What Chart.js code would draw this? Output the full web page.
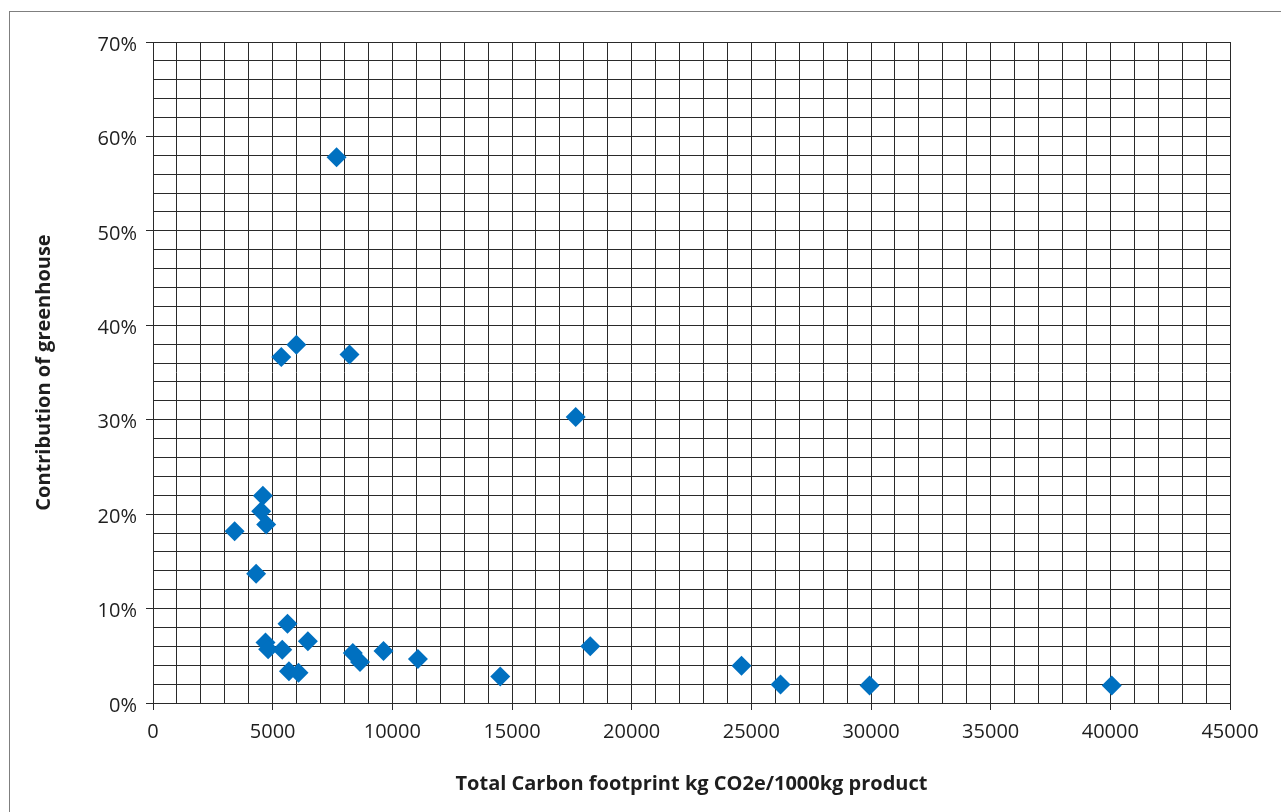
<!DOCTYPE html>
<html>
<head>
<meta charset="utf-8">
<script src="https://cdn.jsdelivr.net/npm/chart.js@4/dist/chart.umd.min.js"></script>
<style>
    html, body { margin: 0; padding: 0; background: #fff; overflow: hidden; }
    #frame {
        position: absolute; left: 9px; top: 11px;
        width: 1400px; height: 900px;
        border: 1px solid #7f7f7f;
    }
    #chart { position: absolute; left: 0; top: 0; }
</style>
</head>
<body>
<div id="frame"></div>
<canvas id="chart" width="1281" height="812"></canvas>
<script>
(function () {

    "use strict";

    // Total carbon footprint, kg CO2e / 1000kg product
    var footprint = [7670, 5990, 5360, 8210, 17660, 4590, 4520, 4730, 3410, 4310,
                     5620, 4700, 4810, 5400, 6470, 5680, 6080, 8350, 8650, 9630,
                     11070, 14510, 18270, 24590, 26220, 29940, 40060];

    // Contribution of greenhouse, %
    var greenhouse = [57.8, 37.95, 36.65, 36.9, 30.3, 21.95, 20.3, 18.9, 18.2, 13.7,
                      8.4, 6.4, 5.7, 5.65, 6.55, 3.35, 3.2, 5.3, 4.35, 5.5,
                      4.65, 2.8, 6.0, 3.95, 1.95, 1.85, 1.85];

    var xTicks = [0, 5000, 10000, 15000, 20000, 25000, 30000, 35000, 40000, 45000];
    var yTicks = [0, 10, 20, 30, 40, 50, 60, 70];

    var gridColor = '#2a2a2a';
    var textColor = '#1e1e1e';
    var tickFont = { family: 'Open Sans', size: 20 };
    var titleFont = { family: 'Open Sans', size: 20, weight: 'bold' };

    var points = [];
    for (var i = 0; i < footprint.length; i++) {
        points.push({ x: footprint[i], y: greenhouse[i] });
    }

    var ctx = document.getElementById('chart').getContext('2d');

    new Chart(ctx, {
        type: 'scatter',
        data: {
            datasets: [{
                data: points,
                pointStyle: 'rectRot',
                pointRadius: 10,
                pointHoverRadius: 10,
                backgroundColor: '#0070c0',
                borderColor: '#0070c0',
                borderWidth: 0
            }]
        },
        options: {
            responsive: false,
            animation: false,
            devicePixelRatio: 1,
            layout: { padding: { left: 0, top: 42, right: 51, bottom: 0 } },
            plugins: {
                legend: { display: false },
                tooltip: { enabled: false }
            },
            scales: {
                x: {
                    type: 'linear',
                    min: 0,
                    max: 45000,
                    afterFit: function (scale) { scale.height = 109; },
                    grid: {
                        color: gridColor,
                        lineWidth: 1,
                        tickLength: 7,
                        tickColor: function (c) {
                            return xTicks.indexOf(c.tick.value) >= 0 ? gridColor : 'rgba(0,0,0,0)';
                        }
                    },
                    border: { color: gridColor, width: 1 },
                    ticks: {
                        stepSize: 1000,
                        autoSkip: false,
                        maxRotation: 0,
                        padding: 10,
                        color: textColor,
                        font: tickFont,
                        callback: function (v) {
                            return xTicks.indexOf(v) >= 0 ? String(v) : '';
                        }
                    },
                    title: {
                        display: true,
                        text: 'Total Carbon footprint kg CO2e/1000kg product',
                        color: textColor,
                        font: titleFont,
                        padding: { top: 0, bottom: 16 }
                    }
                },
                y: {
                    type: 'linear',
                    min: 0,
                    max: 70,
                    afterFit: function (scale) { scale.width = 153; },
                    grid: {
                        color: gridColor,
                        lineWidth: 1,
                        tickLength: 7,
                        tickColor: function (c) {
                            return yTicks.indexOf(c.tick.value) >= 0 ? gridColor : 'rgba(0,0,0,0)';
                        }
                    },
                    border: { color: gridColor, width: 1 },
                    ticks: {
                        stepSize: 2,
                        autoSkip: false,
                        padding: 9,
                        labelOffset: 3,
                        color: textColor,
                        font: tickFont,
                        callback: function (v) {
                            return yTicks.indexOf(v) >= 0 ? v + '%' : '';
                        }
                    },
                    title: {
                        display: true,
                        text: 'Contribution of greenhouse',
                        color: textColor,
                        font: titleFont,
                        padding: { top: 32, bottom: 0 }
                    }
                }
            }
        }
    });

})();
</script>
</body>
</html>
